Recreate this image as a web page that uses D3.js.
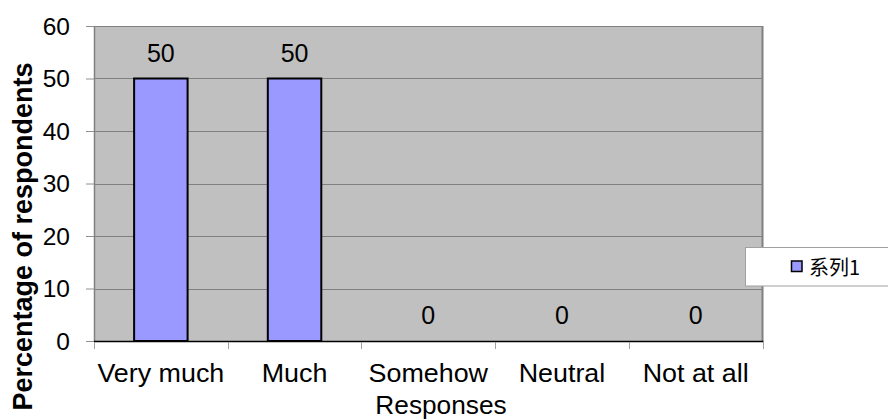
<!DOCTYPE html>
<html>
<head>
<meta charset="utf-8">
<script src="https://cdn.jsdelivr.net/npm/d3@7"></script>
<style>
  html, body { margin: 0; padding: 0; background: #fff; }
  svg { display: block; }
</style>
</head>
<body>
<svg id="chart" width="888" height="419"></svg>
<script>
// Survey responses
const categories = ["Very much", "Much", "Somehow", "Neutral", "Not at all"];
const values = [50, 50, 0, 0, 0];
const yTicks = [0, 10, 20, 30, 40, 50, 60];
const seriesName = "系列1";
const yTitle = "Percentage of respondents";
const xTitle = "Responses";

const plot = { left: 94, right: 762.5, top: 26, bottom: 341 };
const FONT = "'Liberation Sans', Arial, sans-serif";
const FS = 24.5;     // tick and value label size
const CAT_FS = 25;   // category label size
const CAT_SX = 1.075; // slight horizontal widening of category text

const svg = d3.select("#chart");

const x = d3.scaleBand().domain(categories).range([plot.left, plot.right]).paddingInner(0).paddingOuter(0);
const y = d3.scaleLinear().domain([0, 60]).range([plot.bottom, plot.top]);

function label(g, tx, ty, str, anchor, size, sx) {
  return g.append("text")
    .attr("transform", `translate(${tx},${ty}) scale(${sx || 1},1)`)
    .attr("text-anchor", anchor)
    .attr("font-family", FONT)
    .attr("font-size", size)
    .attr("fill", "#000")
    .text(str);
}

// plot background
svg.append("rect")
  .attr("x", plot.left).attr("y", plot.top)
  .attr("width", plot.right - plot.left).attr("height", plot.bottom - plot.top)
  .attr("fill", "#C0C0C0");

// horizontal gridlines
svg.append("g").selectAll("line").data(yTicks.filter(d => d > 0)).join("line")
  .attr("x1", plot.left).attr("x2", plot.right)
  .attr("y1", d => Math.round(y(d)) + 0.5).attr("y2", d => Math.round(y(d)) + 0.5)
  .attr("stroke", "#808080").attr("stroke-width", 1);

// plot border (left/right)
svg.append("line").attr("x1", plot.left + 0.5).attr("x2", plot.left + 0.5)
  .attr("y1", plot.top).attr("y2", plot.bottom).attr("stroke", "#808080").attr("stroke-width", 1.5);
svg.append("line").attr("x1", plot.right).attr("x2", plot.right)
  .attr("y1", plot.top).attr("y2", plot.bottom).attr("stroke", "#808080").attr("stroke-width", 2);

// y axis tick marks and labels
const yAxis = d3.axisLeft(y).tickValues(yTicks).tickSize(8).tickFormat("");
const yg = svg.append("g").attr("transform", `translate(${plot.left},0)`).call(yAxis);
yg.select(".domain").remove();
yg.selectAll(".tick line").attr("stroke", "#909090");
const yLab = svg.append("g");
yTicks.forEach(t => {
  label(yLab, 70, y(t) + 8.8, String(t), "end", FS);
});

// x axis baseline and category ticks
svg.append("line").attr("x1", plot.left).attr("x2", plot.right + 1)
  .attr("y1", plot.bottom + 0.5).attr("y2", plot.bottom + 0.5)
  .attr("stroke", "#000").attr("stroke-width", 1.5);
const bounds = categories.map(c => x(c)).concat([plot.right]);
svg.append("g").selectAll("line").data(bounds).join("line")
  .attr("x1", d => Math.round(d) + 0.5).attr("x2", d => Math.round(d) + 0.5)
  .attr("y1", plot.bottom + 1).attr("y2", plot.bottom + 8)
  .attr("stroke", "#A0A0A0").attr("stroke-width", 1);

const xLab = svg.append("g");
categories.forEach(c => {
  label(xLab, x(c) + x.bandwidth() / 2, 382, c, "middle", CAT_FS, CAT_SX);
});

// bars
const barW = x.bandwidth() * 0.4;
svg.append("g").selectAll("rect")
  .data(categories.map((c, i) => ({ c, v: values[i] })).filter(d => d.v > 0))
  .join("rect")
  .attr("x", d => x(d.c) + (x.bandwidth() - barW) / 2)
  .attr("y", d => y(d.v))
  .attr("width", barW)
  .attr("height", d => y(0) - y(d.v))
  .attr("fill", "#9999FF")
  .attr("stroke", "#000")
  .attr("stroke-width", 2);

// value labels
const vLab = svg.append("g");
categories.forEach((c, i) => {
  label(vLab, x(c) + x.bandwidth() / 2, y(values[i]) - 17, String(values[i]), "middle", 25);
});

// axis titles
label(svg, 441, 414, xTitle, "middle", CAT_FS, 1.05);
svg.append("text")
  .attr("transform", `translate(31.5,236.5) rotate(-90)`)
  .attr("text-anchor", "middle")
  .attr("font-family", FONT)
  .attr("font-size", 27)
  .attr("font-weight", "bold")
  .attr("fill", "#000")
  .text(yTitle);

// legend
const lg = svg.append("g");
lg.append("rect").attr("x", 745.5).attr("y", 247.5).attr("width", 150).attr("height", 38.5)
  .attr("fill", "#fff").attr("stroke", "#A0A0A0").attr("stroke-width", 1);
lg.append("rect").attr("x", 791.5).attr("y", 261).attr("width", 10.5).attr("height", 10.5)
  .attr("fill", "#9999FF").attr("stroke", "#000").attr("stroke-width", 1.5);
lg.append("text").attr("x", 809).attr("y", 274.5)
  .attr("font-family", "'Noto Sans CJK SC', sans-serif").attr("font-size", 20)
  .attr("fill", "#000").text(seriesName);
</script>
</body>
</html>
